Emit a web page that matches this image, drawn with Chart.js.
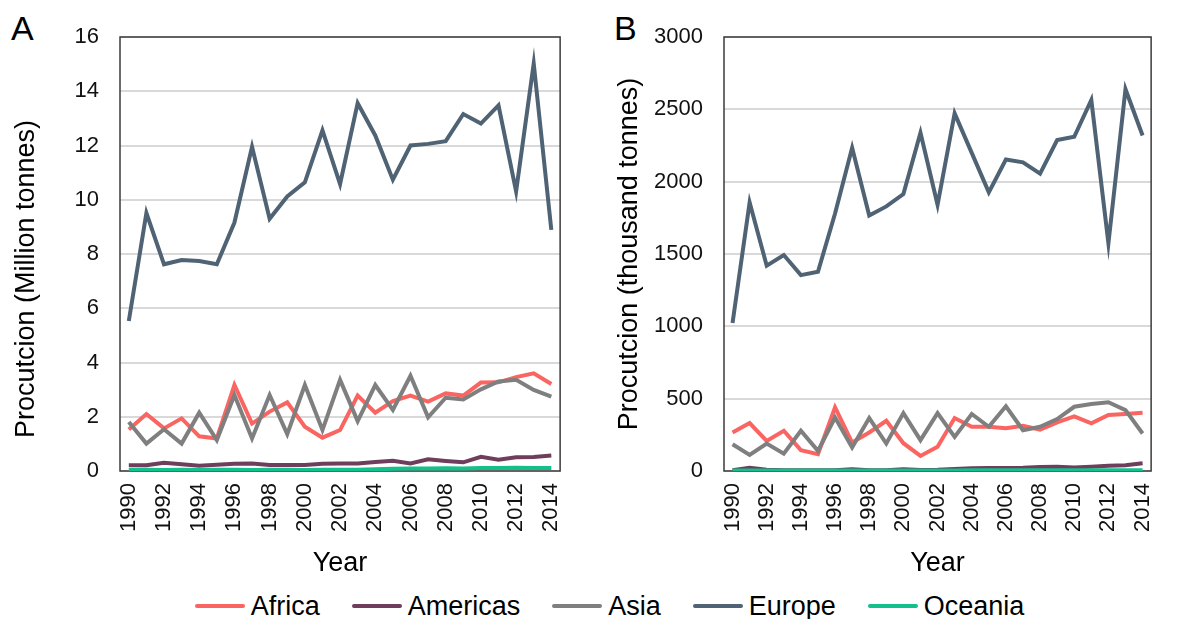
<!DOCTYPE html>
<html>
<head>
<meta charset="utf-8">
<script src="https://cdn.jsdelivr.net/npm/chart.js@4/dist/chart.umd.min.js"></script>
<style>
  html, body { margin: 0; padding: 0; background: #fff; }
  body { width: 1181px; height: 619px; position: relative; overflow: hidden;
         font-family: "Liberation Sans", Arial, sans-serif; color: #000; }
  canvas { position: absolute; top: 0; }
  #chartA { left: 0; }
  #chartB { left: 590px; }
  .letter { position: absolute; font-size: 34px; line-height: 34px; }
  #legend { position: absolute; left: 38px; right: 0; top: 591px; height: 30px;
            display: flex; justify-content: center; align-items: center; font-size: 27px; }
  .item { display: flex; align-items: center; margin: 0 16px; }
  .swatch { width: 50px; height: 4px; margin-right: 6px; border-radius: 2px; }
</style>
</head>
<body>
<div class="letter" style="left:11px;top:11px;">A</div>
<div class="letter" style="left:614px;top:11px;">B</div>
<canvas id="chartA" width="590" height="580"></canvas>
<canvas id="chartB" width="591" height="580"></canvas>
<div id="legend"></div>
<script>
// Years on the horizontal axis
const years = ['1990','1991','1992','1993','1994','1995','1996','1997','1998','1999','2000','2001','2002',
               '2003','2004','2005','2006','2007','2008','2009','2010','2011','2012','2013','2014'];

const regions = ['Africa', 'Americas', 'Asia', 'Europe', 'Oceania'];
const regionColors = ['#FA6461', '#6E3E5C', '#7F7F7F', '#4F6374', '#13C08C'];

// Panel A: production, million tonnes
const africaA   = [1.53, 2.10, 1.57, 1.94, 1.28, 1.20, 3.17, 1.75, 2.19, 2.53, 1.63, 1.23, 1.51, 2.78, 2.15, 2.58, 2.78, 2.56, 2.86, 2.78, 3.26, 3.27, 3.46, 3.60, 3.21];
const americasA = [0.21, 0.21, 0.30, 0.25, 0.19, 0.23, 0.27, 0.28, 0.22, 0.22, 0.22, 0.27, 0.28, 0.28, 0.33, 0.38, 0.28, 0.43, 0.37, 0.32, 0.52, 0.42, 0.51, 0.52, 0.57];
const asiaA     = [1.81, 1.01, 1.54, 1.01, 2.15, 1.14, 2.80, 1.20, 2.80, 1.36, 3.17, 1.51, 3.36, 1.84, 3.17, 2.25, 3.51, 1.98, 2.70, 2.64, 3.01, 3.30, 3.36, 2.99, 2.74];
const europeA   = [5.53, 9.51, 7.62, 7.78, 7.74, 7.62, 9.16, 11.95, 9.30, 10.12, 10.64, 12.56, 10.58, 13.56, 12.37, 10.74, 12.00, 12.06, 12.16, 13.16, 12.81, 13.48, 10.31, 15.02, 8.89];
const oceaniaA  = [0.04, 0.05, 0.04, 0.05, 0.04, 0.05, 0.05, 0.04, 0.05, 0.05, 0.04, 0.05, 0.05, 0.05, 0.06, 0.08, 0.09, 0.09, 0.10, 0.09, 0.11, 0.11, 0.12, 0.11, 0.11];

// Panel B: production, thousand tonnes
const africaB   = [266, 331, 208, 278, 144, 116, 440, 197, 266, 347, 192, 104, 167, 366, 306, 306, 296, 313, 285, 336, 377, 329, 387, 394, 403];
const americasB = [5, 23, 9, 5, 5, 5, 5, 12, 5, 5, 12, 7, 9, 14, 19, 21, 21, 23, 28, 30, 25, 30, 37, 39, 53];
const asiaB     = [185, 111, 190, 120, 278, 139, 370, 162, 366, 190, 400, 213, 400, 236, 394, 306, 447, 282, 306, 359, 444, 463, 475, 421, 259];
const europeB   = [1023, 1856, 1419, 1493, 1354, 1377, 1780, 2234, 1766, 1829, 1914, 2338, 1840, 2472, 2199, 1926, 2153, 2134, 2055, 2287, 2310, 2565, 1574, 2639, 2319];
const oceaniaB  = [3, 3, 3, 3, 3, 3, 4, 4, 4, 4, 4, 4, 4, 4, 5, 5, 5, 5, 5, 5, 6, 6, 6, 6, 6];

const FONT = "'Liberation Sans', Arial, sans-serif";
Chart.defaults.font.family = FONT;
Chart.defaults.color = '#000';

// Plot frame under the lines, rotated y title on top
const framePlugin = {
  id: 'frameTitle',
  beforeDatasetsDraw(chart, args, opts) {
    const { ctx, chartArea: a } = chart;
    ctx.save();
    ctx.strokeStyle = '#3b3b3b';
    ctx.lineWidth = 1.5;
    ctx.strokeRect(a.left, a.top, a.right - a.left, a.bottom - a.top);
    ctx.restore();
  },
  afterDraw(chart, args, opts) {
    if (!opts.text) return;
    const { ctx } = chart;
    ctx.save();
    ctx.translate(opts.x, opts.y);
    ctx.rotate(-Math.PI / 2);
    ctx.font = `${opts.size}px ${FONT}`;
    ctx.fillStyle = '#000';
    ctx.textAlign = 'center';
    ctx.textBaseline = 'middle';
    ctx.fillText(opts.text, 0, 0);
    ctx.restore();
  }
};

function makeChart(id, series, yMax, yStep, yTitle, axisWidth, padRight, titleX, titleY) {
  const datasets = series.map((data, i) => ({
    label: regions[i],
    data: data,
    borderColor: regionColors[i],
    backgroundColor: regionColors[i],
    borderWidth: 4,
    pointRadius: 0,
    tension: 0,
    fill: false,
    order: series.length - i
  }));
  return new Chart(document.getElementById(id), {
    type: 'line',
    data: { labels: years, datasets },
    plugins: [framePlugin],
    options: {
      responsive: false,
      animation: false,
      events: [],
      layout: { padding: { top: 37, right: padRight, left: 0, bottom: 0 } },
      plugins: {
        legend: { display: false },
        tooltip: { enabled: false },
        frameTitle: { text: yTitle, x: titleX, y: titleY, size: 27 }
      },
      scales: {
        x: {
          offset: true,
          grid: { display: false, drawTicks: false },
          border: { display: false },
          ticks: {
            autoSkip: false,
            minRotation: 90,
            maxRotation: 90,
            padding: 12,
            color: '#111',
            font: { size: 22 },
            callback: (v, i) => (i % 2 === 0 ? years[i] : '')
          },
          title: { display: true, text: 'Year', font: { size: 27, lineHeight: 1.2 }, padding: { top: 0, bottom: 0 } },
          afterFit: s => { s.height = 109; }
        },
        y: {
          min: 0,
          max: yMax,
          grid: { color: '#d9d9d9', lineWidth: 2, drawTicks: false },
          border: { display: false },
          ticks: { stepSize: yStep, padding: 21, color: '#111', font: { size: 22 },
                   callback: v => String(v) },
          afterFit: s => { s.width = axisWidth; }
        }
      }
    }
  });
}

makeChart('chartA', [africaA, americasA, asiaA, europeA, oceaniaA], 16, 2,
          'Procutcion (Million tonnes)', 120, 14, 27, 279);
makeChart('chartB', [africaB, americasB, asiaB, europeB, oceaniaB], 3000, 500,
          'Procutcion (thousand tonnes)', 134, 1, 40, 254);

// Shared legend
const legend = document.getElementById('legend');
regions.forEach((name, i) => {
  const item = document.createElement('div');
  item.className = 'item';
  const sw = document.createElement('span');
  sw.className = 'swatch';
  sw.style.background = regionColors[i];
  const label = document.createElement('span');
  label.textContent = name;
  item.appendChild(sw);
  item.appendChild(label);
  legend.appendChild(item);
});
</script>
</body>
</html>
